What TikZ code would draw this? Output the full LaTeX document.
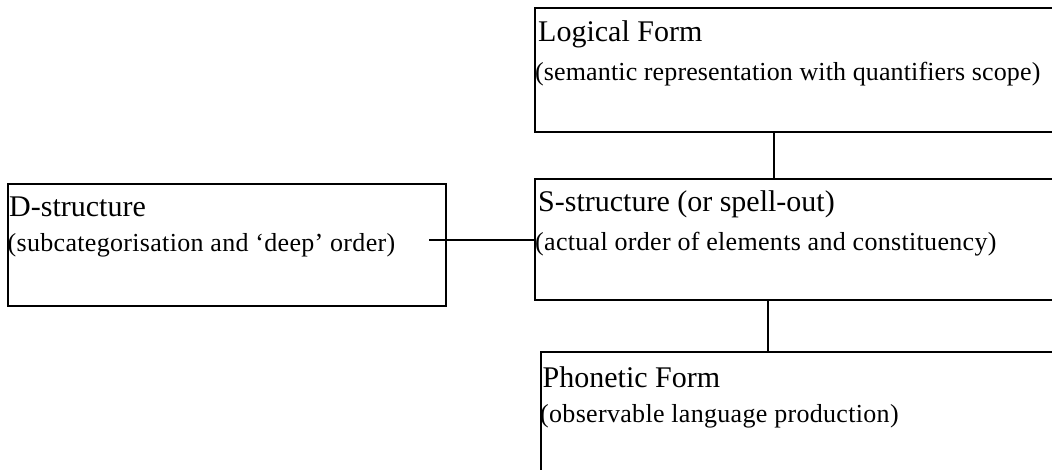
\documentclass[tikz,border=0pt]{standalone}
\usepackage{fontspec}
\setmainfont{Liberation Serif}
\newfontfamily\notefont[LetterSpace=1.2]{Liberation Serif}
\newfontfamily\tightnotefont[LetterSpace=0.5]{Liberation Serif}
\tikzset{
  stagebox/.style={draw, line width=1.8pt, rectangle, inner sep=0pt, outer sep=0pt, anchor=north west},
  headtext/.style={anchor=base west, inner sep=0pt, font=\fontsize{30}{33}\selectfont},
  subtext/.style={anchor=base west, inner sep=0pt, font=\notefont\fontsize{26}{30}\selectfont},
  tightsubtext/.style={subtext, font=\tightnotefont\fontsize{26}{30}\selectfont},
  link/.style={line width=1.8pt}
}
\begin{document}
\begin{tikzpicture}[x=1pt,y=-1pt]
  \clip (0,0) rectangle (1052,470);

  % Logical Form
  \node[stagebox, minimum width=540pt, minimum height=124pt] (lf) at (535,8) {};
  \node[headtext] (lfhead) at (538,42) {Logical Form};
  \node[tightsubtext] (lfsub) at (535,81) {(semantic representation with quantifiers scope)};

  % S-structure
  \node[stagebox, minimum width=540pt, minimum height=121pt] (ss) at (535,179) {};
  \node[headtext] (sshead) at (538,212) {S-structure (or spell-out)};
  \node[subtext] (sssub) at (535,251) {(actual order of elements and constituency)};

  % D-structure
  \node[stagebox, minimum width=438pt, minimum height=122pt] (ds) at (8,184) {};
  \node[headtext] (dshead) at (9,217) {D-structure};
  \node[subtext] (dssub) at (7.5,252) {(subcategorisation and ‘deep’ order)};

  % Phonetic Form
  \node[stagebox, minimum width=540pt, minimum height=140pt] (pf) at (541,352) {};
  \node[headtext] (pfhead) at (542.5,387) {Phonetic Form};
  \node[subtext] (pfsub) at (540,422) {(observable language production)};

  % connectors
  \coordinate (dstub) at (429,240);
  \draw[link] (dstub) -- (dstub -| ss.west);
  \coordinate (upx) at (774,0);
  \draw[link] (lf.south -| upx) -- (ss.north -| upx);
  \coordinate (downx) at (768,0);
  \draw[link] (ss.south -| downx) -- (pf.north -| downx);
\end{tikzpicture}
\end{document}
